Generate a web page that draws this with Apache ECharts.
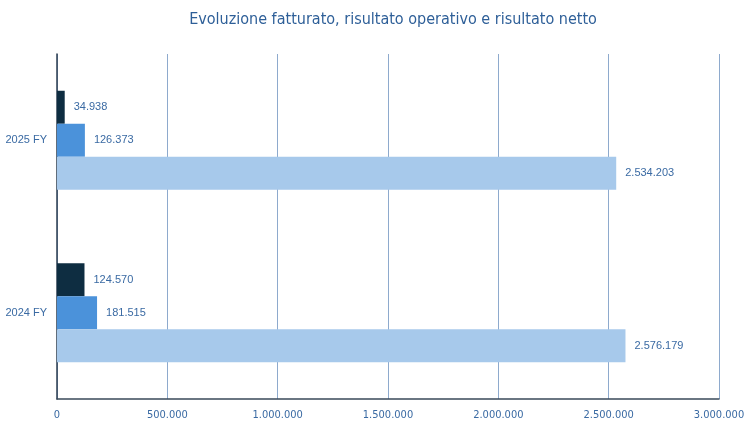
<!DOCTYPE html>
<html><head><meta charset="utf-8">
<script src="https://cdn.jsdelivr.net/npm/echarts@6/dist/echarts.min.js"></script>
<style>html,body{margin:0;padding:0;background:#fff}#c{width:753px;height:426px}</style>
</head><body><div id="c"></div>
<script>
const categories = ['2024 FY', '2025 FY'];
const fatturato = [2576179, 2534203];
const risultatoOperativo = [181515, 126373];
const risultatoNetto = [124570, 34938];
const xTicks = { min: 0, max: 3000000, interval: 500000 };

const fmt = v => String(Math.round(v)).replace(/\B(?=(\d{3})+(?!\d))/g, '.');
const labelColor = '#3a6aa3';
const mkLabel = () => ({ show: true, position: 'right', distance: 9, color: labelColor, fontFamily: 'Liberation Sans', fontSize: 11, formatter: p => fmt(p.value) });

const chart = echarts.init(document.getElementById('c'), null, { renderer: 'canvas' });
chart.setOption({
  animation: false,
  title: { text: 'Evoluzione fatturato, risultato operativo e risultato netto', left: 388, textAlign: 'center', top: 7,
    textStyle: { fontFamily: "'DejaVu Sans Condensed', 'Roboto', sans-serif", fontWeight: 'normal', fontSize: 16, color: '#2e5f98' } },
  grid: { left: 57, right: 34, top: 54, bottom: 27, containLabel: false },
  xAxis: { type: 'value', min: xTicks.min, max: xTicks.max, interval: xTicks.interval,
    axisLine: { show: true, lineStyle: { color: '#3a4a5a', width: 1.5 } },
    axisTick: { show: false },
    splitLine: { show: true, lineStyle: { color: '#8eaacd', width: 1 } },
    axisLabel: { formatter: fmt, color: labelColor, fontFamily: "'DejaVu Sans Condensed', 'Roboto', sans-serif", fontSize: 11, margin: 11 } },
  yAxis: { type: 'category', data: categories,
    axisLine: { show: true, lineStyle: { color: '#2b3d4f', width: 1.5 } },
    axisTick: { show: false },
    axisLabel: { color: labelColor, fontFamily: 'Liberation Sans', fontSize: 11, margin: 10 } },
  series: [
    { name: 'Risultato netto', type: 'bar', data: risultatoNetto, barWidth: 33, barGap: '0%', itemStyle: { color: '#0e2d41' }, label: mkLabel() },
    { name: 'Risultato operativo', type: 'bar', data: risultatoOperativo, barWidth: 33, barGap: '0%', itemStyle: { color: '#4b92da' }, label: mkLabel() },
    { name: 'Fatturato', type: 'bar', data: fatturato, barWidth: 33, barGap: '0%', itemStyle: { color: '#a7c9eb' }, label: mkLabel() }
  ]
});
</script></body></html>
